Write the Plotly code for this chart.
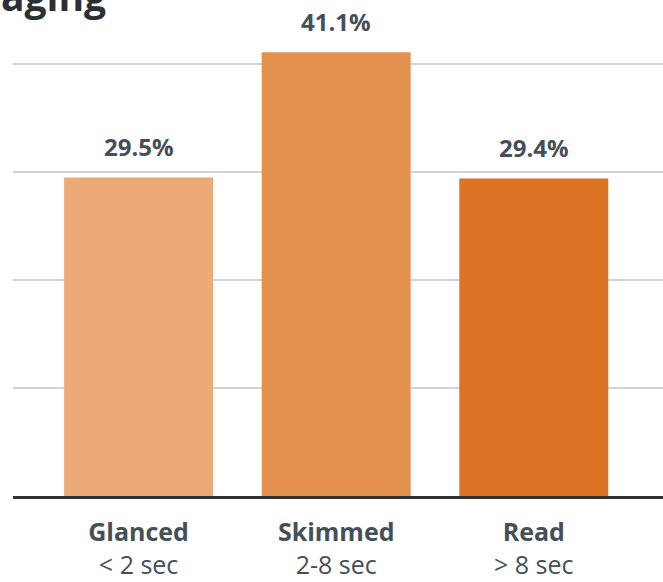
import plotly.graph_objects as go

categories = ["Glanced", "Skimmed", "Read"]
subtitles = ["< 2 sec", "2-8 sec", "> 8 sec"]
values = [29.5, 41.1, 29.4]
colors = ["#EBAA78", "#E4904F", "#DC7224"]
grid_vals = [10, 20, 30, 40]
title_text = "aging"

TEXT = "#454F57"
FONT = "Open Sans"

def esc(s):
    return s.replace("<", "&lt;").replace(">", "&gt;")

xs = list(range(len(categories)))
ticktext = [f"<b>{c}</b><br>{esc(s)}" for c, s in zip(categories, subtitles)]

fig = go.Figure()
fig.add_trace(go.Bar(
    x=xs, y=values, marker=dict(color=colors, line=dict(width=0)),
    width=0.754, hoverinfo="skip",
))

for x, v in zip(xs, values):
    fig.add_annotation(
        x=x, y=v, xref="x", yref="y", text=f"<b>{v:.1f}%</b>",
        showarrow=False, yanchor="middle", yshift=31,
        font=dict(family=FONT, size=24, color=TEXT),
    )

fig.add_annotation(
    x=0, y=1, xref="paper", yref="paper", xanchor="left", yanchor="middle",
    xshift=-14, yshift=5, text=f"<b>{title_text}</b>", showarrow=False,
    font=dict(family=FONT, size=39, color="#2B3035"),
)

fig.update_layout(
    width=663, height=582,
    margin=dict(l=13, r=0, t=0, b=86),
    plot_bgcolor="white", paper_bgcolor="white",
    showlegend=False,
    font=dict(family=FONT, color=TEXT, size=25),
    xaxis=dict(
        range=[-0.6356, 2.654], tickvals=xs, ticktext=ticktext,
        showgrid=False, zeroline=False, showline=True,
        linecolor="#333333", linewidth=3, ticks="",
        ticklabelstandoff=12,
        tickfont=dict(family=FONT, size=25, color=TEXT),
        fixedrange=True,
    ),
    yaxis=dict(
        range=[0, 45.93], tickvals=grid_vals, showticklabels=False,
        showgrid=True, gridcolor="#D2D2D2", gridwidth=2,
        zeroline=False, showline=False, fixedrange=True,
    ),
)

fig.write_html("out.html")
